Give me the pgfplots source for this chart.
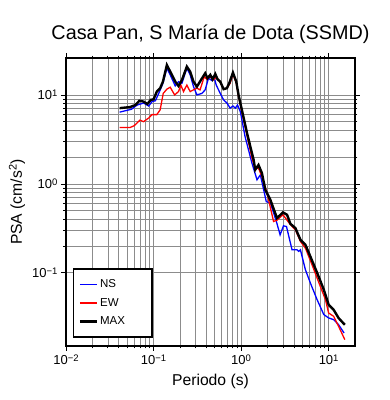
\documentclass[border=0pt]{standalone}
\usepackage{pgfplots}
\pgfplotsset{compat=1.18}
\usepackage{fontspec}
\setmainfont{Liberation Sans}
\newcommand{\expo}[1]{\raisebox{0.55ex}{\fontsize{9.5}{10}\selectfont #1}}
\begin{document}
\begin{tikzpicture}
\path[use as bounding box] (-66pt,-54pt) rectangle (324pt,346pt);
\begin{axis}[
  scale only axis, width=289pt, height=288pt,
  xmode=log, ymode=log,
  xmin=0.01, xmax=20, ymin=0.015, ymax=26,
  grid=both,
  major grid style={black!45, line width=0.5pt},
  minor grid style={black!45, line width=0.5pt},
  axis line style={line width=1.6pt},
  tick style={black, line width=0.6pt},
  tick align=outside,
  major tick length=5pt, minor tick length=2.5pt,
  xtick={0.01,0.1,1,10},
  xticklabels={10\expo{−2},10\expo{−1},10\expo{0},10\expo{1}},
  ytick={0.1,1,10},
  yticklabels={10\expo{−1},10\expo{0},10\expo{1}},
  ticklabel style={font=\fontsize{13}{15}\selectfont},
  xlabel={Periodo (s)},
  ylabel={PSA (cm/s\textsuperscript{2})},
  label style={font=\fontsize{15.7}{18}\selectfont},
  xlabel style={at={(axis description cs:0.5,0)}, anchor=center, yshift=-35.5pt},
  ylabel style={at={(axis description cs:0,0.5)}, anchor=center, yshift=49pt},
  legend cell align=left,
  legend style={at={(axis description cs:0.024,0.028)}, anchor=south west,
    draw=black, line width=1.5pt, fill=white,
    font=\fontsize{11.5}{13}\selectfont, row sep=5pt, inner xsep=5pt, inner ysep=9pt},
  legend image code/.code={\draw[#1] (0pt,0pt) -- (17pt,0pt);},
]
\addplot[color=blue, line width=1.3pt] coordinates {
(0.041,6.4)(0.056,6.9)(0.065,7.7)(0.077,8.1)(0.088,7.5)(0.096,8.4)(0.105,8.6)(0.117,10.9)(0.128,13.5)(0.142,20)(0.155,16.8)(0.177,12.6)(0.193,14.1)(0.211,13.5)(0.24,20)(0.262,16.8)(0.286,12.4)(0.313,10)(0.357,10.4)(0.389,11.4)(0.424,15.4)(0.464,14.5)(0.49,16.1)(0.52,12.9)(0.578,10.4)(0.631,8.8)(0.689,8.1)(0.75,7.1)(0.807,7.5)(0.861,7.1)(0.91,7.7)(0.98,6.5)(1.11,3.4)(1.33,1.71)(1.52,1.11)(1.66,1.26)(1.94,0.63)(2.16,0.61)(2.53,0.377)(2.79,0.267)(3.05,0.337)(3.3,0.331)(3.82,0.181)(4.35,0.181)(4.55,0.174)(4.76,0.181)(5.43,0.108)(6.19,0.0766)(7.38,0.0498)(8.8,0.0339)(10,0.031)(11.4,0.0297)(13,0.026)(15,0.021)
};
\addlegendentry{NS}
\addplot[color=red, line width=1.3pt] coordinates {
(0.041,4.3)(0.054,4.3)(0.06,4.5)(0.07,5.2)(0.077,5.0)(0.088,5.5)(0.096,6.0)(0.109,6.0)(0.119,6.8)(0.129,10.4)(0.142,11.6)(0.155,12.2)(0.174,10)(0.193,10.9)(0.205,12.9)(0.22,10.9)(0.24,12.9)(0.262,10.9)(0.286,11.4)(0.313,11.9)(0.34,11.4)(0.38,16.1)(0.405,15.0)(0.445,16.1)(0.48,14.7)(0.52,15.8)(0.578,13.8)(0.631,11.6)(0.689,11.9)(0.75,13.5)(0.807,17.2)(0.881,13.5)(0.935,9.6)(1.17,3.5)(1.33,1.95)(1.45,1.5)(1.58,1.5)(1.73,1.21)(1.98,0.785)(2.35,0.377)(2.57,0.39)(3.01,0.449)(3.35,0.39)(3.66,0.347)(4.17,0.304)(4.76,0.225)(5.43,0.189)(6.46,0.123)(7.76,0.0766)(9.2,0.0498)(10,0.0352)(11.4,0.0324)(13,0.0249)(15.3,0.0177)
};
\addlegendentry{EW}
\addplot[color=black, line width=2.4pt] coordinates {
(0.041,7.1)(0.054,7.3)(0.062,7.7)(0.069,8.6)(0.077,8.4)(0.085,7.9)(0.093,8.8)(0.1,8.9)(0.109,10.9)(0.119,11.9)(0.128,14.1)(0.142,21.7)(0.155,18.3)(0.177,14.1)(0.193,12.6)(0.211,14.7)(0.24,20.8)(0.262,18.3)(0.286,14.1)(0.313,12.4)(0.348,14.7)(0.389,17.5)(0.414,15.4)(0.445,16.8)(0.472,15.0)(0.507,17.2)(0.538,15.0)(0.578,14.1)(0.631,11.6)(0.689,11.9)(0.738,13.8)(0.807,17.8)(0.881,14.1)(0.935,10)(1.17,3.7)(1.39,1.86)(1.45,1.44)(1.58,1.63)(1.73,1.32)(1.89,0.857)(2.16,0.66)(2.57,0.412)(3.01,0.477)(3.35,0.449)(3.66,0.355)(4.17,0.318)(4.76,0.235)(5.43,0.206)(6.19,0.152)(7.38,0.1)(8.8,0.0646)(10,0.0437)(11.4,0.0384)(13,0.0309)(15.3,0.026)
};
\addlegendentry{MAX\hspace*{20pt}}
\end{axis}
\node[font=\fontsize{19.8}{22}\selectfont, anchor=center] at (144.5pt,311.7pt) {Casa Pan, S María de Dota (SSMD)};
\end{tikzpicture}
\end{document}
